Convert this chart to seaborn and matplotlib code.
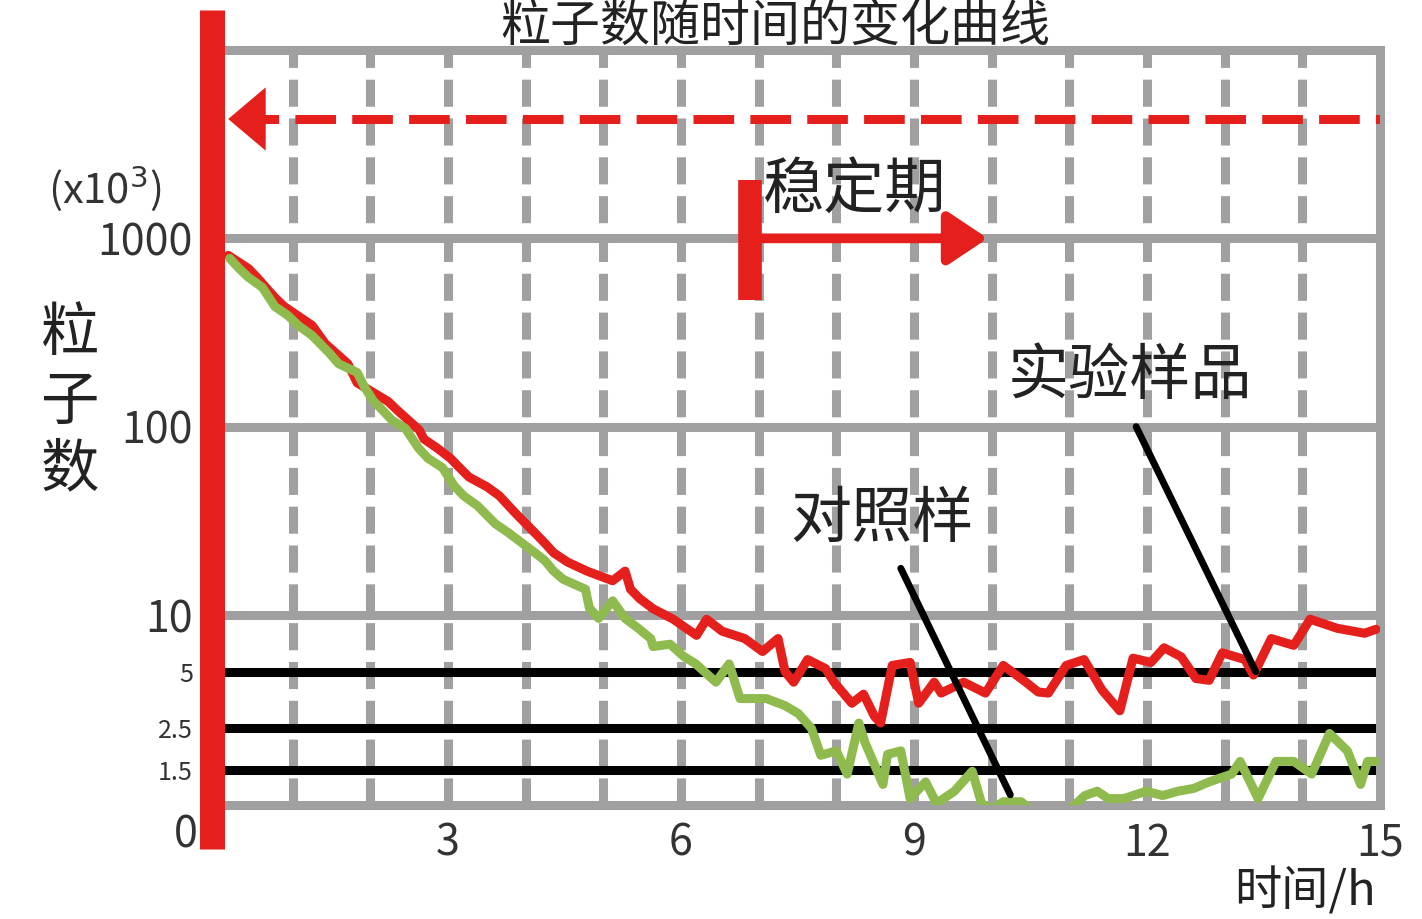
import pandas as pd
import matplotlib
matplotlib.use("Agg")
import matplotlib.pyplot as plt
import seaborn as sns
from matplotlib.ticker import NullLocator, FixedLocator, FixedFormatter

# data (hours, particle count x10^3)
red_t = [0.17, 0.43, 0.54, 0.77, 0.89, 1.25, 1.42, 1.71, 1.83, 2.23, 2.35, 2.63, 2.69, 2.86, 3.03,
         3.15, 3.27, 3.5, 3.66, 3.78, 3.89, 4.13, 4.25, 4.36, 4.54, 4.79, 5.12, 5.28, 5.35, 5.47,
         5.64, 5.9, 6.05, 6.2, 6.33, 6.53, 6.82, 7.05, 7.25, 7.34, 7.45, 7.63, 7.86, 7.97, 8.2,
         8.35, 8.49, 8.57, 8.72, 8.95, 9.06, 9.26, 9.35, 9.64, 9.92, 10.15, 10.44, 10.6, 10.73,
         10.96, 11.19, 11.42, 11.65, 11.82, 12.05, 12.22, 12.44, 12.63, 12.8, 12.97, 13.26, 13.37,
         13.6, 13.89, 14.1, 14.45, 14.8, 14.95]
red_v = [812, 692, 621, 485, 435, 345, 276, 216, 171, 136, 122, 96, 86, 77, 68,
         60.5, 54, 48, 43, 38, 34, 27, 24, 21.4, 19.1, 17.1, 15.2, 17.1, 13.7, 12.2,
         10.8, 9.5, 8.6, 7.8, 9.5, 8.2, 7.5, 6.4, 7.5, 5.0, 4.4, 5.8, 5.2, 4.4, 3.4,
         3.8, 2.9, 2.67, 5.4, 5.6, 3.4, 4.4, 3.85, 4.4, 3.85, 5.4, 4.4, 3.9, 3.85,
         5.4, 5.8, 4.0, 3.1, 5.9, 5.6, 6.7, 6.0, 4.6, 4.5, 6.3, 5.8, 4.8,
         7.5, 6.9, 9.5, 8.5, 8.0, 8.4]

green_t = [0.19, 0.31, 0.43, 0.61, 0.77, 0.94, 1.07, 1.25, 1.48, 1.59, 1.83, 1.93, 2.04, 2.16, 2.28,
           2.45, 2.62, 2.74, 2.93, 3.08, 3.2, 3.38, 3.61, 3.78, 3.96, 4.12, 4.25, 4.36, 4.48, 4.77,
           4.82, 4.94, 5.12, 5.28, 5.45, 5.61, 5.64, 5.86, 6.03, 6.19, 6.45, 6.62, 6.76, 7.1, 7.34,
           7.51, 7.68, 7.8, 8.0, 8.14, 8.29, 8.37, 8.6, 8.66, 8.83, 8.95, 9.15, 9.29, 9.52, 9.75,
           9.87, 10.0, 10.15, 10.38, 10.6, 10.9, 11.2, 11.36, 11.5, 11.7, 11.99, 12.2, 12.4, 12.6, 12.8,
           13.09, 13.2, 13.43, 13.66, 13.89, 14.12, 14.35, 14.58, 14.75, 14.84, 14.95]
green_v = [783, 692, 621, 549, 435, 389, 345, 305, 244, 216, 194, 161, 137, 122, 108,
           98, 77, 68, 60.5, 48.5, 43, 38, 30.5, 27.3, 24, 21.4, 19.4, 17.1, 15.5, 13.7,
           10.9, 9.6, 11.9, 9.6, 8.5, 7.5, 6.8, 7.0, 6.05, 5.5, 4.4, 5.5, 3.6, 3.6, 3.3,
           3.0, 2.5, 1.8, 1.9, 1.43, 2.67, 2.1, 1.26, 1.82, 1.9, 1.06, 1.3, 1.0, 1.16, 1.48,
           1.0, 0.93, 1.02, 1.02, 0.85, 0.85, 1.1, 1.16, 1.06, 1.06, 1.16, 1.1, 1.16, 1.2, 1.3,
           1.43, 1.67, 1.06, 1.67, 1.67, 1.43, 2.35, 1.9, 1.26, 1.67, 1.67]

level_lines = [1.5, 2.5, 5]
level_labels = ["1.5", "2.5", "5"]
grid_levels = [10, 100, 1000]
grid_labels = ["10", "100", "1000"]
dashed_level = 4300
x_ticks = [3, 6, 9, 12, 15]

title = "粒子数随时间的变化曲线"
ylabel = "粒\n子\n数"
unit = "(x10$^3$)"
xlabel = "时间/h"
note_phase = "稳定期"
note_green = "对照样"
note_red = "实验样品"

RED = "#e41f1c"
GREEN = "#8fbb4e"
GRAY = "#a0a0a0"

df = pd.concat([
    pd.DataFrame({"t": red_t, "v": red_v, "s": "red"}),
    pd.DataFrame({"t": green_t, "v": green_v, "s": "green"}),
])

sns.set_style("white")
plt.rcParams["font.family"] = ["Noto Sans CJK SC", "DejaVu Sans"]

fig = plt.figure(figsize=(14.22, 9.19), dpi=100)
ax = fig.add_axes([215 / 1422, 1 - 805 / 919, 1165 / 1422, 755 / 919])
ax.set_yscale("log")
ax.set_xlim(0, 15)
ax.set_ylim(0.98, 10000)

# grid
for g in grid_levels:
    ax.axhline(g, color=GRAY, lw=6.5, zorder=1)
for t in range(1, 15):
    ax.axvline(t, color=GRAY, lw=6.5, dashes=(3, 1.3), zorder=1)
for lv in level_lines:
    ax.axhline(lv, color="black", lw=6.5, zorder=2)

ax.axhline(dashed_level, xmin=0.02, color=RED, lw=6.5, dashes=(4.5, 1.8), zorder=3)
ax.annotate("", xy=(0.17, dashed_level), xytext=(0.75, dashed_level),
            arrowprops=dict(arrowstyle="-|>,head_length=0.45,head_width=0.38",
                            mutation_scale=60, color=RED, lw=0, shrinkA=0, shrinkB=0), zorder=4)

sns.lineplot(data=df, x="t", y="v", hue="s", palette={"red": RED, "green": GREEN},
             estimator=None, sort=False, lw=6.5, legend=False, ax=ax, zorder=5)

# thick red left bar
ax.plot([-0.04, -0.04], [0.57, 16300], color=RED, lw=18, solid_capstyle="butt",
        clip_on=False, zorder=10)

# bracket arrow
ax.plot([6.89, 6.89], [469, 2030], color=RED, lw=17, solid_capstyle="butt", zorder=6)
ax.annotate("", xy=(9.95, 1000), xytext=(6.89, 1000),
            arrowprops=dict(arrowstyle="-|>,head_length=0.6,head_width=0.4",
                            mutation_scale=40, color=RED, lw=7, shrinkA=0, shrinkB=0), zorder=6)

# annotations
ax.text(8.24, 1800, note_phase, ha="center", va="center", fontsize=44, color="#222222", zorder=7)
ax.text(8.59, 32, note_green, ha="center", va="center", fontsize=44, color="#222222", zorder=7)
ax.text(11.78, 184, note_red, ha="center", va="center", fontsize=44, color="#222222", zorder=7)
ax.plot([8.83, 10.24], [17.7, 1.11], color="black", lw=5, zorder=6)
ax.plot([11.86, 13.4], [100, 5.0], color="black", lw=5, zorder=6)

# spines and ticks
for side in ["top", "right", "bottom"]:
    ax.spines[side].set_color(GRAY)
    ax.spines[side].set_linewidth(6.5)
ax.spines["left"].set_visible(False)
ax.yaxis.set_minor_locator(NullLocator())
ax.yaxis.set_major_locator(FixedLocator(level_lines + grid_levels))
ax.yaxis.set_major_formatter(FixedFormatter(level_labels + grid_labels))
ax.set_xticks(x_ticks)
ax.set_xticklabels([str(x) for x in x_ticks])
ax.tick_params(axis="both", length=0, labelsize=31, colors="#333333")
ax.tick_params(axis="y", pad=16)
ax.tick_params(axis="x", pad=12)
for lab in ax.get_yticklabels()[:3]:
    lab.set_fontsize(18)
ax.set_xlabel("")
ax.set_ylabel("")
# origin label sits left of the red bar
ax.text(-0.37, -0.04, "0", transform=ax.get_xaxis_transform(), ha="center", va="center",
        fontsize=31, color="#333333")

fig.text(775 / 1422, 1 - 1 / 919, title, ha="center", va="top", fontsize=36, color="#222222")
fig.text(70 / 1422, 1 - 402 / 919, ylabel, ha="center", va="center", fontsize=42,
         linespacing=1.15, color="#222222")
fig.text(105 / 1422, 1 - 188 / 919, unit, ha="center", va="center", fontsize=30, color="#333333")
fig.text(1305 / 1422, 1 - 892 / 919, xlabel, ha="center", va="center", fontsize=34, color="#222222")

fig.savefig("out.png", dpi=100)
